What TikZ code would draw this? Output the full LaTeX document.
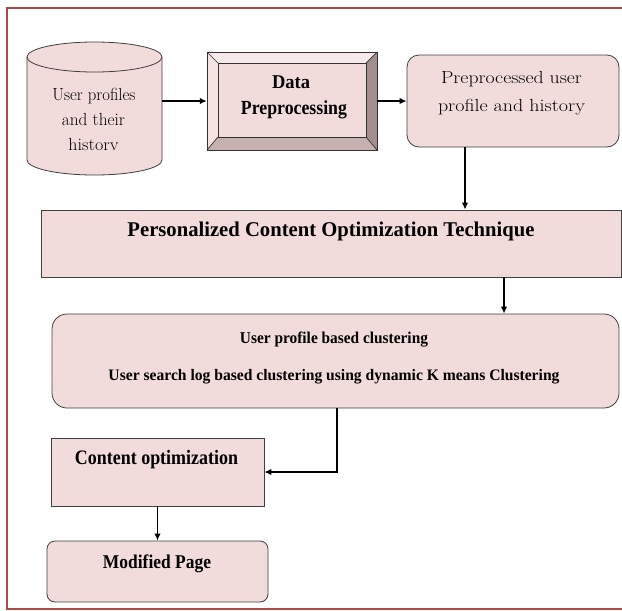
\documentclass[tikz,border=0pt]{standalone}
\usepackage{fontspec}
\usepackage{graphicx}
\newfontfamily\tnr{Liberation Serif}
\usetikzlibrary{arrows.meta}
\definecolor{boxfill}{HTML}{F2DCDB}
\definecolor{framered}{HTML}{A94A47}
\definecolor{bevtop}{HTML}{F8EAEA}
\definecolor{bevleft}{HTML}{F5E3E2}
\definecolor{bevright}{HTML}{A38E8E}
\definecolor{bevbottom}{HTML}{C6B0B0}
% fit one line of text to a given width (pt), keeping its height
\newcommand\wfit[2]{\resizebox{#1pt}{\height}{#2}}

\begin{document}
\begin{tikzpicture}[x=1pt,y=-1pt,
  box/.style={draw=black!75, line width=0.8pt, fill=boxfill, inner sep=0pt},
  rbox/.style={box, rounded corners=#1},
  conn/.style={line width=1.7pt, -{Latex[length=7pt,width=6.5pt]}},
  reg/.style={inner sep=0pt, anchor=base, font=\fontsize{#1}{#1}\selectfont},
  bold/.style={inner sep=0pt, anchor=base, font=\tnr\bfseries\fontsize{#1}{#1}\selectfont}
]
\useasboundingbox (0,0) rectangle (622,611);

% outer frame (open on the right)
\draw[framered, line width=1.6pt] (622,8) -- (7,8) -- (7,609) -- (622,609);

% database cylinder
\node[name=db, minimum width=135pt, minimum height=133pt, inner sep=0pt] at (94.5,108.5) {};
\filldraw[fill=boxfill, draw=black!75, line width=0.8pt]
  (27,57) -- (27,160) arc[start angle=180, end angle=360, x radius=67.5pt, y radius=15pt] -- (162,57);
\filldraw[fill=boxfill, draw=black!75, line width=0.8pt]
  (94.5,57) ellipse[x radius=67.5pt, y radius=15pt];
\node[name=dbl1, reg=17.5] at (94,100) {\wfit{83}{User profiles}};
\node[name=dbl2, reg=17.5] at (93.5,125) {\wfit{63}{and their}};
\node[name=dbl3, reg=17.5] at (93.5,150) {\wfit{50}{historv}};

% bevelled processing box
\node[name=dp, minimum width=170pt, minimum height=98pt, inner sep=0pt] at (292,101) {};
\fill[bevtop]    (207,52) -- (377,52) -- (366,63) -- (218,63) -- cycle;
\fill[bevleft]   (207,52) -- (218,63) -- (218,137) -- (207,150) -- cycle;
\fill[bevright]  (377,52) -- (377,150) -- (366,137) -- (366,63) -- cycle;
\fill[bevbottom] (207,150) -- (377,150) -- (366,137) -- (218,137) -- cycle;
\fill[boxfill]   (218,63) rectangle (366,137);
\draw[black!80, line width=0.7pt] (207,52) rectangle (377,150);
\draw[black!80, line width=0.7pt] (218,63) rectangle (366,137);
\draw[black!80, line width=0.7pt] (207,52) -- (218,63) (377,52) -- (366,63)
  (207,150) -- (218,137) (377,150) -- (366,137);
\node[name=dpl1, bold=19.5] at (291,88) {\wfit{38}{Data}};
\node[name=dpl2, bold=20] at (294,114) {\wfit{106}{Preprocessing}};

% preprocessed data
\node[name=pp, rbox=12pt, minimum width=212pt, minimum height=92pt] at (513,101) {};
\node[name=ppl1, reg=17.5] at (511.5,83) {\wfit{141}{Preprocessed user}};
\node[name=ppl2, reg=17.5] at (511.5,111) {\wfit{147}{profile and history}};

% technique
\node[name=pcot, box, minimum width=580pt, minimum height=67pt] at (331,243.5) {};
\node[name=pcotl, bold=21] at (331,236.5)
  {\wfit{407}{Personalized Content Optimization Technique}};

% clustering
\node[name=cl, rbox=15pt, minimum width=567pt, minimum height=94pt] at (335.5,361) {};
\node[name=cll1, bold=16.5] at (334,343) {\wfit{188}{User profile based clustering}};
\node[name=cll2, bold=16] at (334,380)
  {\wfit{451}{User search log based clustering using dynamic K means Clustering}};

% content optimization
\node[name=co, box, minimum width=213pt, minimum height=68pt] at (157.5,472) {};
\node[name=col, bold=20.5] at (156.5,464) {\wfit{163}{Content optimization}};

% modified page
\node[name=mp, rbox=8pt, minimum width=221pt, minimum height=61pt] at (157.5,571.5) {};
\node[name=mpl, bold=19.5] at (157,568.5) {\wfit{108}{Modified Page}};

% connectors
\draw[conn] (db.east |- dp.west) -- (dp.west);
\draw[conn] (dp.east) -- (pp.west);
\draw[conn] ([xshift=-48pt]pp.south) -- ([xshift=-48pt]pp.south |- pcot.north);
\draw[conn] ([xshift=173pt]pcot.south) -- ([xshift=173pt]pcot.south |- cl.north);
\draw[conn] ([xshift=1.5pt]cl.south) |- (co.east);
\draw[conn] (co.south) -- (mp.north);
\end{tikzpicture}
\end{document}
